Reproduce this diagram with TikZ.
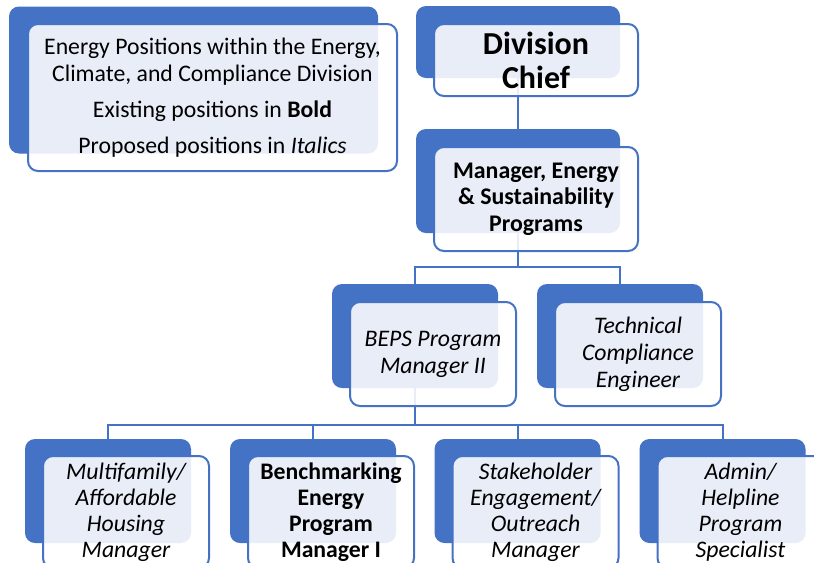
\documentclass[tikz,border=0pt]{standalone}
\usepackage{fontspec}
\setmainfont{Carlito}
\usetikzlibrary{positioning}
\definecolor{orgblue}{HTML}{4472C4}

\begin{document}
\begin{tikzpicture}[
    x=0.75pt, y=-0.75pt,
    boxsize/.style 2 args={minimum width=#1*0.75pt, minimum height=#2*0.75pt},
    backbox/.style={fill=orgblue, rounded corners=7.5pt, inner sep=0pt},
    frontbox/.style={draw=orgblue, line width=1.5pt, fill=white, fill opacity=0.88,
        text opacity=1, rounded corners=7.5pt, align=center, inner sep=0pt,
        font=\fontsize{17.8}{20.3}\selectfont},
    link/.style={draw=orgblue, line width=1.5pt}
]
    \useasboundingbox (0,0) rectangle (814,562);
    \clip (0,0) rectangle (814,562);

    % Blue boxes at the back
    \node[backbox, boxsize={369}{147}] (legendb) at (193.5,80) {};
    \node[backbox, boxsize={204}{72}] (chiefb) at (518,42) {};
    \node[backbox, boxsize={204}{104}] (mgrb) at (518,181) {};
    \node[backbox, boxsize={166}{104}] (bepsb) at (415,336) {};
    \node[backbox, boxsize={166}{104}] (techb) at (620,336) {};
    \node[backbox, boxsize={166}{104}] (multib) at (108,491) {};
    \node[backbox, boxsize={166}{104}] (benchb) at (313,491) {};
    \node[backbox, boxsize={166}{104}] (stakeb) at (517.5,491) {};
    \node[backbox, boxsize={166}{104}] (adminb) at (722.5,491) {};

    % Reporting lines
    \draw[link] (chiefb.south) -- (mgrb.north);
    \draw[link] (mgrb.south) -- ++(0,34) coordinate (j1) -| (bepsb.north);
    \draw[link] (j1) -| (techb.north);
    \draw[link] (bepsb.south) -- ++(0,37) coordinate (j2) -| (multib.north);
    \draw[link] (j2) -| (benchb.north);
    \draw[link] (j2) -| (stakeb.north);
    \draw[link] (j2) -| (adminb.north);

    % Text boxes in front
    \node[frontbox, boxsize={369}{147}] (legend) at ([shift={(19,17.5)}]legendb.center)
        {Energy Positions within the Energy,\\ Climate, and Compliance Division\\[6.5pt]
         Existing positions in \textbf{Bold}\\[7pt] Proposed positions in \textit{Italics}};
    \node[frontbox, boxsize={204}{72}, font=\fontsize{24}{25.5}\selectfont\bfseries] (chief)
        at ([shift={(18,18)}]chiefb.center) {Division\\Chief};
    \node[frontbox, boxsize={204}{104}, font=\fontsize{17.9}{20}\selectfont\bfseries] (mgr)
        at ([shift={(18,18)}]mgrb.center) {Manager, Energy\\ \& Sustainability\\ Programs};
    \node[frontbox, boxsize={166}{104}, font=\fontsize{17.8}{20.3}\selectfont\itshape] (beps)
        at ([shift={(18,18)}]bepsb.center) {BEPS Program\\ Manager II};
    \node[frontbox, boxsize={166}{104}, font=\fontsize{17.8}{20.3}\selectfont\itshape] (tech)
        at ([shift={(18,18)}]techb.center) {Technical\\ Compliance\\ Engineer};
    \node[frontbox, boxsize={166}{112}, font=\fontsize{17.8}{19.5}\selectfont\itshape] (multi)
        at ([shift={(18,21)}]multib.center) {Multifamily/\\ Affordable\\ Housing\\ Manager};
    \node[frontbox, boxsize={166}{112}, font=\fontsize{17.8}{19.5}\selectfont\bfseries] (bench)
        at ([shift={(18,21)}]benchb.center) {Benchmarking\\ Energy\\ Program\\ Manager I};
    \node[frontbox, boxsize={166}{112}, font=\fontsize{17.8}{19.5}\selectfont\itshape] (stake)
        at ([shift={(18,21)}]stakeb.center) {Stakeholder\\ Engagement/\\ Outreach\\ Manager};
    \node[frontbox, boxsize={166}{112}, font=\fontsize{17.8}{19.5}\selectfont\itshape] (admin)
        at ([shift={(18,21)}]adminb.center) {Admin/\\ Helpline\\ Program\\ Specialist};
\end{tikzpicture}
\end{document}
